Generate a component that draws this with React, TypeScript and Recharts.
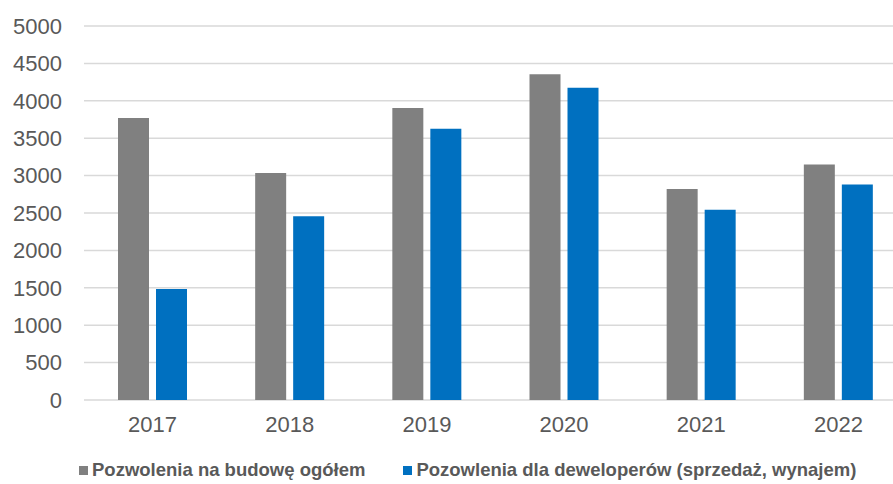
import { BarChart, Bar, XAxis, YAxis, CartesianGrid, Legend } from "recharts"

// ─── Data ────────────────────────────────────────────────────────────────────
const years = ["2017", "2018", "2019", "2020", "2021", "2022"]
const permitsTotal = [3770, 3035, 3905, 4355, 2820, 3150]
const permitsDevelopers = [1485, 2455, 3625, 4175, 2545, 2880]
const yTicks = [0, 500, 1000, 1500, 2000, 2500, 3000, 3500, 4000, 4500, 5000]

const totalLabel = "Pozwolenia na budowę ogółem"
const devLabel = "Pozowlenia dla deweloperów (sprzedaż, wynajem)"

const data = years.map((year, i) => ({
  year,
  total: permitsTotal[i],
  dev: permitsDevelopers[i],
}))

const FONT = '"Liberation Sans", Arial, sans-serif'
const TEXT = "#595959"

// ─── Legend ──────────────────────────────────────────────────────────────────
function ChartLegend() {
  const items = [
    { label: totalLabel, color: "#808080" },
    { label: devLabel, color: "#0070C0" },
  ]
  return (
    <div style={{ display: "flex", paddingLeft: 79, paddingTop: 6, gap: 38, alignItems: "center" }}>
      {items.map((it) => (
        <span key={it.label} style={{ display: "flex", alignItems: "center", gap: 4 }}>
          <span style={{ width: 9, height: 9, background: it.color, display: "inline-block" }} />
          <span style={{ color: TEXT, fontSize: 18.5, fontWeight: 700, fontFamily: FONT, lineHeight: "20px" }}>
            {it.label}
          </span>
        </span>
      ))}
    </div>
  )
}

export default function App() {
  return (
    <div
      style={{
        position: "fixed",
        left: 0,
        top: 0,
        width: 893,
        height: 484,
        overflow: "hidden",
        background: "#fff",
      }}
    >
      <BarChart
        width={920}
        height={484}
        data={data}
        margin={{ top: 26, right: 13, left: 0, bottom: 0 }}
        barSize={31}
        barGap={7}
      >
        <CartesianGrid vertical={false} stroke="#d9d9d9" strokeWidth={1.5} />
        <XAxis
          dataKey="year"
          axisLine={false}
          tickLine={false}
          tickSize={0}
          tickMargin={16}
          height={54}
          tick={{ fill: TEXT, fontSize: 22, fontFamily: FONT }}
        />
        <YAxis
          domain={[0, 5000]}
          ticks={yTicks}
          axisLine={false}
          tickLine={false}
          tickSize={0}
          tickMargin={22}
          width={84}
          tick={{ fill: TEXT, fontSize: 22, fontFamily: FONT }}
        />
        <Legend verticalAlign="bottom" height={30} content={<ChartLegend />} />
        <Bar dataKey="total" name={totalLabel} fill="#808080" isAnimationActive={false} />
        <Bar dataKey="dev" name={devLabel} fill="#0070C0" isAnimationActive={false} />
      </BarChart>
    </div>
  )
}
